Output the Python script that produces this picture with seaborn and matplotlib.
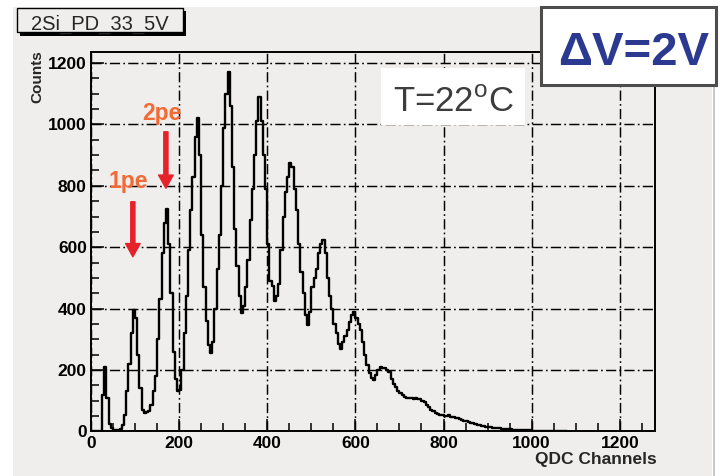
import numpy as np
import pandas as pd
import matplotlib
matplotlib.use("Agg")
import matplotlib.pyplot as plt
from matplotlib.patches import Rectangle
from matplotlib.ticker import MultipleLocator
import seaborn as sns

# ---------------- data ----------------
BIN_START = 0
BIN_WIDTH = 5
counts = [
    0, 0, 0, 0, 0, 120, 210, 110, 25, 10, 6, 5, 6, 8, 20, 55, 130, 220, 320, 395,
    370, 250, 140, 70, 60, 62, 68, 85, 130, 180, 300, 430, 580, 680, 725, 610, 450, 260, 170, 130,
    135, 200, 320, 440, 590, 720, 830, 960, 1020, 900, 640, 470, 360, 280, 255, 290, 400, 530, 640, 800,
    990, 1100, 1170, 1060, 860, 660, 540, 440, 385, 410, 470, 560, 690, 790, 900, 1010, 1090, 1010, 900, 790,
    610, 490, 475, 425, 440, 480, 590, 700, 780, 830, 875, 860, 790, 720, 610, 520, 450, 380, 345, 390,
    470, 500, 530, 580, 610, 625, 580, 500, 440, 400, 350, 320, 285, 270, 290, 310, 330, 355, 380, 390,
    370, 350, 330, 290, 250, 215, 190, 175, 168, 185, 200, 210, 205, 208, 200, 195, 170, 155, 145, 130,
    125, 118, 112, 110, 108, 110, 106, 108, 104, 105, 100, 95, 85, 78, 70, 65, 60, 57, 54, 52,
    51, 50, 52, 48, 47, 45, 43, 40, 38, 35, 33, 30, 28, 26, 24, 22, 20, 18, 17, 15,
    14, 13, 12, 12, 11, 10, 9, 9, 8, 8, 7, 6, 6, 5, 5, 4, 4, 3, 3, 3,
    2, 2, 2, 1, 1, 1, 1, 0, 1, 0, 1, 1, 0, 1, 1, 0,
]
x_ticks = [0, 200, 400, 600, 800, 1000, 1200]
y_ticks = [0, 200, 400, 600, 800, 1000, 1200]
title_text = "2Si_PD_33_5V"
x_label = "QDC Channels"
y_label = "Counts"
dv_text = "\u0394V=2V"
temp_text = r"T=22$^{\mathrm{o}}$C"
pe_labels = ["1pe", "2pe"]

# ---------------- style ----------------
sns.set_theme(style="ticks")
plt.rcParams["font.family"] = ["Liberation Sans", "DejaVu Sans"]
plt.rcParams["mathtext.fontset"] = "custom"
plt.rcParams["mathtext.rm"] = "Liberation Sans"

W, H = 720, 476
fig = plt.figure(figsize=(W / 100, H / 100), dpi=100, facecolor="white")
BG = "#efeeec"

def fx(px):
    return px / W

def fy(py):
    return 1 - py / H

# gray canvas
fig.patches.append(Rectangle((fx(13), 0), fx(712) - fx(13), fy(7), transform=fig.transFigure,
                             facecolor=BG, edgecolor="none", zorder=-10))
fig.lines.append(plt.Line2D([fx(713.5), fx(713.5)], [0, fy(7)], transform=fig.transFigure,
                            color="#bdbdbd", lw=1.2, zorder=-9))

ax = fig.add_axes([fx(91), fy(431.4), fx(655) - fx(91), fy(52.3) - fy(431.4)])
ax.set_facecolor(BG)

counts_arr = np.array(counts, dtype=float)
n_bins = len(counts_arr)
centers = BIN_START + BIN_WIDTH * (np.arange(n_bins) + 0.5)
df = pd.DataFrame({"channel": centers, "count": counts_arr})

sns.histplot(data=df, x="channel", weights="count", binwidth=BIN_WIDTH,
             binrange=(BIN_START, BIN_START + BIN_WIDTH * n_bins), element="step", fill=False,
             color="black", linewidth=1.7, ax=ax)

ax.set_xlim(0, 1280)
ax.set_ylim(0, 1235)
ax.set_xticks(x_ticks)
ax.set_yticks(y_ticks)
ax.set_xticklabels([str(v) for v in x_ticks])
ax.set_yticklabels([str(v) for v in y_ticks])
ax.xaxis.set_minor_locator(MultipleLocator(50))
ax.yaxis.set_minor_locator(MultipleLocator(50))
ax.set_xlabel("")
ax.set_ylabel("")

ax.tick_params(which="both", direction="in", top=False, right=False, colors="black")
ax.tick_params(which="major", length=9, width=1.1, pad=3, labelsize=12.5)
ax.tick_params(which="minor", length=5.5, width=1.1)
for lab in ax.get_xticklabels() + ax.get_yticklabels():
    lab.set_fontweight("bold")

for s in ax.spines.values():
    s.set_visible(True)
    s.set_color("black")
    s.set_linewidth(1.4)

ax.grid(True, which="major", color="black", linestyle=(0, (7, 2.2, 1.2, 2.2)), linewidth=1.05)
ax.set_axisbelow(False)

# axis titles (ROOT style at the ends)
fig.text(fx(657), fy(452), x_label, ha="right", va="top", fontsize=12.5, fontweight="bold")
fig.text(fx(37), fy(50), y_label, ha="center", va="top", rotation=90, fontsize=11, fontweight="bold")

# arrows and pe labels
red = "#e5222a"
orange = "#f26a35"
arrow_props = dict(facecolor=red, edgecolor=red, width=3.0, headwidth=10.5, headlength=9.5, shrink=0)
ax.annotate("", xy=(95, 569), xytext=(95, 748), arrowprops=arrow_props, annotation_clip=False)
ax.annotate("", xy=(170, 792), xytext=(170, 976), arrowprops=arrow_props, annotation_clip=False)
ax.text(84, 813, pe_labels[0], ha="center", va="center", fontsize=16.5, fontweight="bold", color=orange)
ax.text(161, 1034, pe_labels[1], ha="center", va="center", fontsize=16.5, fontweight="bold", color=orange)

# title box with shadow
fig.patches.append(Rectangle((fx(20), fy(36)), fx(186) - fx(20), fy(11) - fy(36), transform=fig.transFigure,
                             facecolor="black", edgecolor="none", zorder=20))
fig.patches.append(Rectangle((fx(17), fy(32)), fx(183) - fx(17), fy(8) - fy(32), transform=fig.transFigure,
                             facecolor=BG, edgecolor="black", lw=1.0, zorder=21))
fig.text(fx(99.5), fy(29.5), title_text, ha="center", va="baseline", fontsize=14.5, zorder=22)

# Delta V box
fig.patches.append(Rectangle((fx(541), fy(85)), fx(716) - fx(541), fy(7) - fy(85), transform=fig.transFigure,
                             facecolor="white", edgecolor="#4d4d4d", lw=2.2, zorder=20))
fig.text(fx(634), fy(65), dv_text, ha="center", va="baseline", fontsize=34, fontweight="bold",
         color="#2b3990", zorder=22)

# temperature box
fig.patches.append(Rectangle((fx(381), fy(125)), fx(525) - fx(381), fy(68) - fy(125), transform=fig.transFigure,
                             facecolor="white", edgecolor="none", zorder=20))
fig.text(fx(453), fy(111.5), temp_text, ha="center", va="baseline", fontsize=25, color="#3d3d3d", zorder=22)

fig.savefig("out.png", dpi=100, facecolor="white")
